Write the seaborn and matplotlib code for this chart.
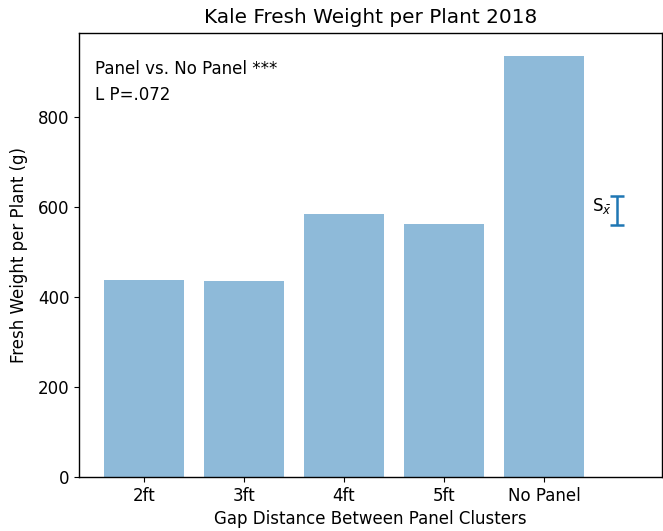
import pandas as pd
import matplotlib
matplotlib.use("Agg")
import matplotlib.pyplot as plt
import seaborn as sns

# valeurs
gaps = ["2ft", "3ft", "4ft", "5ft", "No Panel"]
weights = [438, 436, 585, 563, 935]
se_center = 592
se_half = 32

df = pd.DataFrame({"gap": gaps, "weight": weights})

# le graphique d'origine a des polices un peu plus grandes
plt.rcParams["font.size"] = 12
plt.rcParams["axes.titlesize"] = 14.4
plt.rcParams["axes.linewidth"] = 1.0

fig = plt.figure(figsize=(6.63, 5.31), dpi=100)
ax = fig.add_axes([79 / 663, 1 - 477 / 531, (662 - 79) / 663, (477 - 33) / 531])

sns.barplot(data=df, x="gap", y="weight", color="#1f77b4", alpha=0.5,
            saturation=1, width=0.8, ax=ax)

# barre d'erreur standard
ax.errorbar([4.73], [se_center], yerr=[se_half], color="#1f77b4", capsize=5,
            elinewidth=1.8, capthick=1.8)
ax.text(4.68, 602, r"S$_{\bar{x}}$", ha="right", va="center", fontsize=12)

ax.text(0.027, 0.918, "Panel vs. No Panel ***", transform=ax.transAxes, fontsize=12,
        va="center")
ax.text(0.027, 0.86, "L P=.072", transform=ax.transAxes, fontsize=12, va="center")

ax.set_xlim(-0.65, 5.18)
ax.set_ylim(0, 987)
ax.set_yticks([0, 200, 400, 600, 800])
ax.set_title("Kale Fresh Weight per Plant 2018", pad=7)
ax.set_xlabel("Gap Distance Between Panel Clusters", labelpad=4)
ax.set_ylabel("Fresh Weight per Plant (g)", labelpad=7)

fig.savefig("out.png", dpi=100)
